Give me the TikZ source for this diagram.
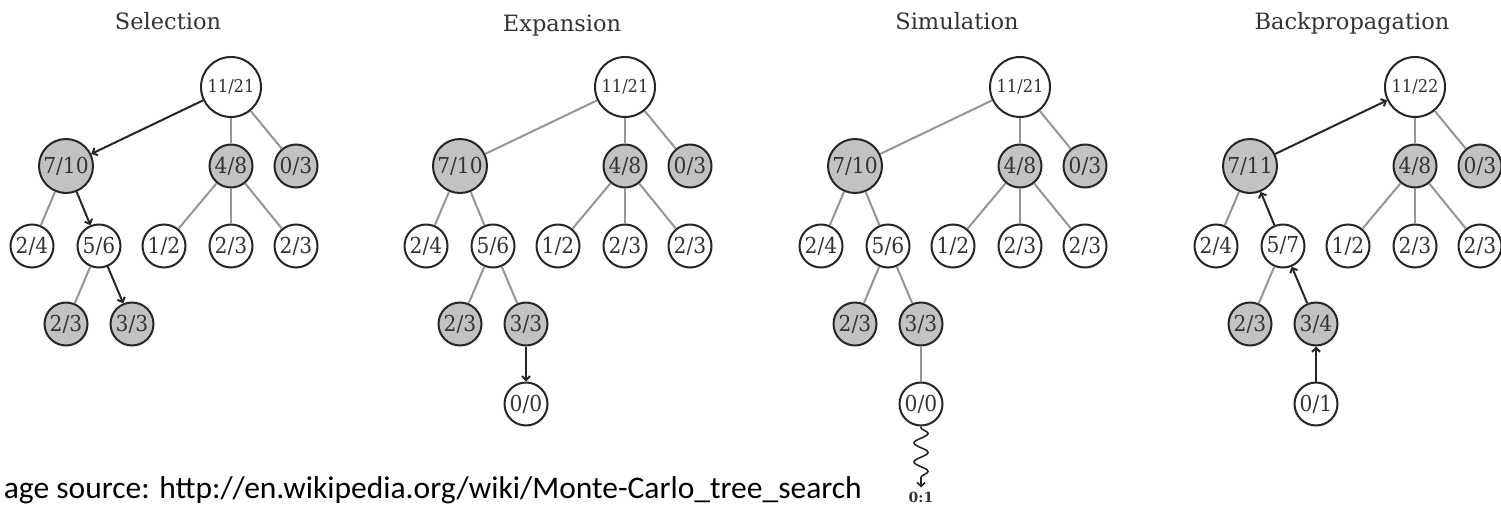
\documentclass[tikz,border=0pt]{standalone}
\usepackage{fontspec}
\setmainfont{DejaVu Serif}
\newfontfamily\nodefont[FakeStretch=0.92]{DejaVu Serif}
\newfontfamily\capfont{Carlito}
\usetikzlibrary{arrows.meta,decorations.pathmorphing}
\definecolor{nodefill}{HTML}{C2C2C2}
\definecolor{ink}{HTML}{262626}
\definecolor{txt}{HTML}{333333}
\definecolor{edgegray}{HTML}{959595}
\newcommand\mctspanel[8]{%
\begin{scope}[shift={(#2,0)}]
\node[ttl] (#1t) at (168,#4) {#3};
\node[lg,wn] (#1r) at (231,87) {#5};
\node[md,gn] (#1L) at (66,166) {#6};
\node[sm,gn] (#1M) at (231,166) {4/8};
\node[sm,gn] (#1R) at (296,166) {0/3};
\node[sm,wn] (#1a) at (32,246) {2/4};
\node[sm,wn] (#1b) at (99,246) {#7};
\node[sm,wn] (#1c) at (164,246) {1/2};
\node[sm,wn] (#1d) at (231,246) {2/3};
\node[sm,wn] (#1e) at (296,246) {2/3};
\node[sm,gn] (#1f) at (66,324) {2/3};
\node[sm,gn] (#1g) at (132,324) {#8};
\end{scope}}
\begin{document}
\begin{tikzpicture}[x=1pt,y=-1pt,
 nd/.style={circle,draw=ink,line width=2pt,inner sep=0pt,text=txt,font=\nodefont\fontsize{22}{22}\selectfont},
 sm/.style={nd,minimum size=43pt},
 md/.style={nd,minimum size=54pt},
 lg/.style={nd,minimum size=60pt,font=\nodefont\fontsize{17.7}{18}\selectfont},
 wn/.style={fill=white},
 gn/.style={fill=nodefill},
 tedge/.style={draw=edgegray,line width=2pt},
 aedge/.style={draw=ink,line width=2pt,-{Straight Barb[length=4pt,width=8pt]}},
 ttl/.style={anchor=base,text=txt,font=\fontsize{22.5}{22.5}\selectfont},
 wave/.style={draw=ink,line width=1.6pt,decorate,decoration={snake,segment length=19pt,amplitude=7pt,pre length=1pt,post length=5pt},-{Straight Barb[length=4pt,width=8pt]}}]
\useasboundingbox (0,0) rectangle (1501,505);
\clip (0,0) rectangle (1501,505);
% Selection
\mctspanel{s}{0}{Selection}{30}{11/21}{7/10}{5/6}{3/3}
\draw[aedge] (sr) -- (sL);
\draw[tedge] (sr) -- (sM);
\draw[tedge] (sr) -- (sR);
\draw[tedge] (sL) -- (sa);
\draw[aedge] (sL) -- (sb);
\draw[tedge] (sM) -- (sc);
\draw[tedge] (sM) -- (sd);
\draw[tedge] (sM) -- (se);
\draw[tedge] (sb) -- (sf);
\draw[aedge] (sb) -- (sg);
% Expansion
\mctspanel{x}{394}{Expansion}{32}{11/21}{7/10}{5/6}{3/3}
\node[sm,wn] (xh) at (526,404) {0/0};
\draw[tedge] (xr) -- (xL);
\draw[tedge] (xr) -- (xM);
\draw[tedge] (xr) -- (xR);
\draw[tedge] (xL) -- (xa);
\draw[tedge] (xL) -- (xb);
\draw[tedge] (xM) -- (xc);
\draw[tedge] (xM) -- (xd);
\draw[tedge] (xM) -- (xe);
\draw[tedge] (xb) -- (xf);
\draw[tedge] (xb) -- (xg);
\draw[aedge] (xg) -- (xh);
% Simulation
\mctspanel{m}{789}{Simulation}{30}{11/21}{7/10}{5/6}{3/3}
\node[sm,wn] (mh) at (921,404) {0/0};
\node[font=\bfseries\fontsize{14}{14}\selectfont,text=txt,inner sep=0pt] (mo) at (921,497) {0:1};
\draw[tedge] (mr) -- (mL);
\draw[tedge] (mr) -- (mM);
\draw[tedge] (mr) -- (mR);
\draw[tedge] (mL) -- (ma);
\draw[tedge] (mL) -- (mb);
\draw[tedge] (mM) -- (mc);
\draw[tedge] (mM) -- (md);
\draw[tedge] (mM) -- (me);
\draw[tedge] (mb) -- (mf);
\draw[tedge] (mb) -- (mg);
\draw[tedge] (mg) -- (mh);
\draw[wave] (mh) -- ([yshift=4pt]mo.north);
% Backpropagation
\mctspanel{b}{1184}{Backpropagation}{30}{11/22}{7/11}{5/7}{3/4}
\node[sm,wn] (bh) at (1316,404) {0/1};
\draw[aedge] (bL) -- (br);
\draw[tedge] (br) -- (bM);
\draw[tedge] (br) -- (bR);
\draw[tedge] (bL) -- (ba);
\draw[aedge] (bb) -- (bL);
\draw[tedge] (bM) -- (bc);
\draw[tedge] (bM) -- (bd);
\draw[tedge] (bM) -- (be);
\draw[tedge] (bb) -- (bf);
\draw[aedge] (bg) -- (bb);
\draw[aedge] (bh) -- (bg);
% caption
\node[anchor=base east,inner sep=0pt,font=\capfont\fontsize{31.5}{31.5}\selectfont] (cap) at (862,498) {age source: http://en.wikipedia.org/wiki/Monte-Carlo\_tree\_search};
\end{tikzpicture}
\end{document}
